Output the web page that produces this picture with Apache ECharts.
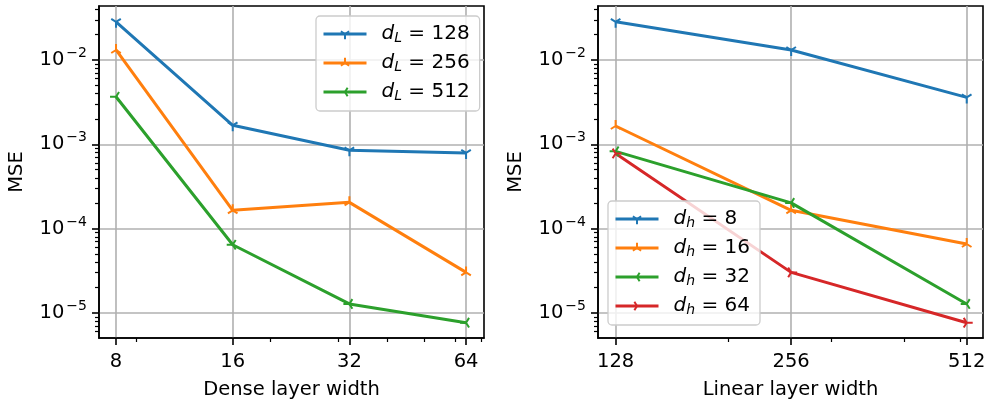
<!DOCTYPE html>
<html>
<head>
<meta charset="utf-8">
<script src="https://cdn.jsdelivr.net/npm/echarts@6/dist/echarts.min.js"></script>
<style>
  html, body { margin: 0; background: #fff; }
  #chart { width: 987px; height: 400px; }
</style>
</head>
<body>
<div id="chart"></div>
<script>
// values
const denseWidths = [8, 16, 32, 64];
const linearWidths = [128, 256, 512];

const dL128 = [0.0284, 1.68e-3, 8.5e-4, 7.9e-4];
const dL256 = [0.01315, 1.65e-4, 2.05e-4, 3.03e-5];
const dL512 = [3.67e-3, 6.45e-5, 1.28e-5, 7.67e-6];

const dh8 = [0.0284, 0.01315, 3.6e-3];
const dh16 = [1.65e-3, 1.65e-4, 6.58e-5];
const dh32 = [8.26e-4, 2.02e-4, 1.28e-5];
const dh64 = [7.8e-4, 3.03e-5, 7.67e-6];

const leftLegend = ['d_L = 128', 'd_L = 256', 'd_L = 512'];
const rightLegend = ['d_h = 8', 'd_h = 16', 'd_h = 32', 'd_h = 64'];

const yTicks = [1e-5, 1e-4, 1e-3, 1e-2];
const leftXTicks = [8, 16, 32, 64];
const rightXTicks = [128, 256, 512];
const leftXMinor = [9, 20, 30, 40, 50, 60, 70];
const rightXMinor = [200, 300, 400, 500];

const yMinor = [];
for (let e = -6; e <= -2; e++) {
  for (let m = 2; m <= 9; m++) yMinor.push(m * Math.pow(10, e));
}

const colors = ['#1f77b4', '#ff7f0e', '#2ca02c', '#d62728'];
// matplotlib tri markers; the leading moves keep the box centred on the point
const tri = {
  down: 'path://M-10,-10M10,10M0,0L0,10M0,0L8,-5M0,0L-8,-5',
  up: 'path://M-10,-10M10,10M0,0L0,-10M0,0L8,5M0,0L-8,5',
  left: 'path://M-10,-10M10,10M0,0L-10,0M0,0L5,8M0,0L5,-8',
  right: 'path://M-10,-10M10,10M0,0L10,0M0,0L-5,8M0,0L-5,-8'
};

const FONT = 'DejaVu Sans';
const FS = 19.5;
const yMin = 5.05e-6, yMax = 0.0437;

function mkSeries(name, xs, ys, color, symbol, idx) {
  return {
    type: 'line',
    name: name,
    xAxisIndex: idx,
    yAxisIndex: idx,
    data: xs.map((x, i) => [x, ys[i]]),
    symbol: symbol,
    symbolSize: 12,
    showAllSymbol: true,
    itemStyle: { color: color, borderColor: color, borderWidth: 2 },
    lineStyle: { color: color, width: 3 },
    emphasis: { disabled: true },
    z: 3
  };
}

function yLabel(v) {
  const e = Math.round(Math.log10(v));
  return '{b|10}{s|\u2212' + (-e) + '}';
}

function mainY(grid) {
  return {
    type: 'log', gridIndex: grid, position: 'left', min: yMin, max: yMax,
    name: 'MSE', nameLocation: 'middle', nameGap: 72, nameRotate: 90,
    nameTextStyle: { fontFamily: FONT, fontSize: FS, color: '#000' },
    axisLine: { show: true, lineStyle: { color: '#000', width: 1.6 } },
    axisTick: { show: true, length: 7, customValues: yTicks, lineStyle: { color: '#000', width: 1.6 } },
    axisLabel: {
      customValues: yTicks, formatter: yLabel, margin: 12, color: '#000',
      rich: {
        b: { fontFamily: FONT, fontSize: 19.5, color: '#000' },
        s: { fontFamily: FONT, fontSize: 14, color: '#000', padding: [0, 0, 13, 2] }
      }
    },
    splitLine: { show: true, lineStyle: { color: '#b0b0b0', width: 1.6 } },
    minorTick: { show: false }
  };
}

function minorY(grid) {
  return {
    type: 'log', gridIndex: grid, position: 'left', offset: 0, min: yMin, max: yMax,
    axisLine: { show: false },
    axisTick: { show: true, length: 4, customValues: yMinor, lineStyle: { color: '#000', width: 1.2 } },
    axisLabel: { show: false },
    splitLine: { show: false }
  };
}

function mainX(grid, min, max, ticks, title) {
  return {
    type: 'log', logBase: 2, gridIndex: grid, position: 'bottom', min: min, max: max,
    name: title, nameLocation: 'middle', nameGap: 42,
    nameTextStyle: { fontFamily: FONT, fontSize: FS, color: '#000' },
    axisLine: { show: true, lineStyle: { color: '#000', width: 1.6 } },
    axisTick: { show: true, length: 7, customValues: ticks, lineStyle: { color: '#000', width: 1.6 } },
    axisLabel: { customValues: ticks, fontFamily: FONT, fontSize: FS, color: '#000', margin: 14, formatter: v => String(Math.round(v)) },
    splitLine: { show: true, lineStyle: { color: '#b0b0b0', width: 1.6 } },
    minorTick: { show: false }
  };
}

function minorX(grid, min, max, ticks) {
  return {
    type: 'log', logBase: 2, gridIndex: grid, position: 'bottom', offset: 0, min: min, max: max,
    axisLine: { show: false },
    axisTick: { show: true, length: 4, customValues: ticks, lineStyle: { color: '#000', width: 1.2 } },
    axisLabel: { show: false },
    splitLine: { show: false }
  };
}

function legendText(name) {
  const m = name.match(/^d_(\w) = (\d+)$/);
  return '{i|d}{sub|' + m[1] + '}{t| = ' + m[2] + '}';
}

const legendRich = {
  i: { fontFamily: FONT, fontStyle: 'italic', fontSize: 20, color: '#000', lineHeight: 20 },
  sub: { fontFamily: FONT, fontStyle: 'italic', fontSize: 14, color: '#000', lineHeight: 20, padding: [8, 0, 0, 0] },
  t: { fontFamily: FONT, fontSize: 20, color: '#000', lineHeight: 20 }
};

function mkLegend(names, left, top) {
  return {
    data: names, orient: 'vertical', left: left, top: top,
    padding: [7, 10, 8, 6], itemWidth: 43, itemHeight: 13, itemGap: 7,
    backgroundColor: 'rgba(255,255,255,0.8)', borderColor: '#cccccc', borderWidth: 1.3, borderRadius: 4,
    formatter: legendText,
    lineStyle: { width: 3 },
    textStyle: { lineHeight: 20, padding: [0, 0, 0, 10], rich: legendRich },
    selectedMode: false
  };
}

const option = {
  animation: false,
  backgroundColor: '#fff',
  grid: [
    { left: 99, top: 6, width: 385, height: 332, show: true, borderColor: '#000', borderWidth: 1.6, outerBoundsMode: 'none' },
    { left: 598, top: 6, width: 385, height: 332, show: true, borderColor: '#000', borderWidth: 1.6, outerBoundsMode: 'none' }
  ],
  xAxis: [
    mainX(0, 7.23, 71.2, leftXTicks, 'Dense layer width'),
    mainX(1, 119.4, 546, rightXTicks, 'Linear layer width'),
    minorX(0, 7.23, 71.2, leftXMinor),
    minorX(1, 119.4, 546, rightXMinor)
  ],
  yAxis: [mainY(0), mainY(1), minorY(0), minorY(1)],
  legend: [mkLegend(leftLegend, 316, 16), mkLegend(rightLegend, 608, 201)],
  series: [
    mkSeries(leftLegend[0], denseWidths, dL128, colors[0], tri.down, 0),
    mkSeries(leftLegend[1], denseWidths, dL256, colors[1], tri.up, 0),
    mkSeries(leftLegend[2], denseWidths, dL512, colors[2], tri.left, 0),
    mkSeries(rightLegend[0], linearWidths, dh8, colors[0], tri.down, 1),
    mkSeries(rightLegend[1], linearWidths, dh16, colors[1], tri.up, 1),
    mkSeries(rightLegend[2], linearWidths, dh32, colors[2], tri.left, 1),
    mkSeries(rightLegend[3], linearWidths, dh64, colors[3], tri.right, 1)
  ]
};

const chart = echarts.init(document.getElementById('chart'));
chart.setOption(option);
</script>
</body>
</html>
